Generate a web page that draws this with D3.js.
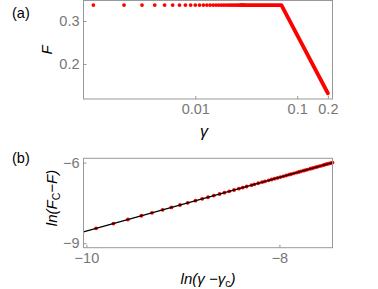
<!DOCTYPE html>
<html>
<head>
<meta charset="utf-8">
<script src="https://cdn.jsdelivr.net/npm/d3@7"></script>
<style>
  body { margin: 0; background: #fff; }
  svg { display: block; font-family: "Liberation Sans", Arial, sans-serif; }
  .tick text { fill: #777; font-size: 14.5px; }
  .tick line { stroke: #999; }
</style>
</head>
<body>
<svg id="chart" width="378" height="289"></svg>
<script>
// panel (a): F vs gamma (log x)
var gammaDots = [0.001, 0.002, 0.003, 0.004, 0.005, 0.006, 0.007, 0.008, 0.009, 0.010,
                 0.011, 0.012, 0.013, 0.014, 0.015, 0.016, 0.017, 0.018, 0.019, 0.020,
                 0.021, 0.022, 0.023, 0.024, 0.025, 0.026, 0.027, 0.028, 0.029, 0.030];
var fDots = 0.337;
var gammaLine = [0.028, 0.070, 0.200];
var fLine = [0.337, 0.337, 0.132];
var xTicksA = [0.01, 0.1, 0.2];
var xLabelsA = ["0.01", "0.1", "0.2"];
var yTicksA = [0.2, 0.3];
var yLabelsA = ["0.2", "0.3"];

// panel (b): ln(Fc - F) vs ln(gamma - gamma_c)
var lnG = [-9.90, -9.72, -9.57, -9.43, -9.32, -9.21, -9.12, -9.03, -8.95, -8.87,
           -8.80, -8.74, -8.68, -8.62, -8.57, -8.52, -8.47, -8.42, -8.38, -8.34,
           -8.29, -8.26, -8.22, -8.18, -8.15, -8.11, -8.08, -8.05, -8.02, -7.99,
           -7.96, -7.93, -7.90, -7.88, -7.85, -7.82, -7.80, -7.78, -7.75, -7.73,
           -7.71, -7.68, -7.66, -7.64, -7.62, -7.60, -7.58, -7.56, -7.54, -7.52,
           -7.51, -7.49, -7.47, -7.45];
var lnF = [-8.45, -8.27, -8.12, -7.98, -7.87, -7.76, -7.67, -7.58, -7.50, -7.42,
           -7.35, -7.29, -7.23, -7.17, -7.12, -7.07, -7.02, -6.97, -6.93, -6.89,
           -6.84, -6.81, -6.77, -6.73, -6.70, -6.66, -6.63, -6.60, -6.57, -6.54,
           -6.51, -6.48, -6.45, -6.43, -6.40, -6.37, -6.35, -6.33, -6.30, -6.28,
           -6.26, -6.23, -6.21, -6.19, -6.17, -6.15, -6.13, -6.11, -6.09, -6.07,
           -6.06, -6.04, -6.02, -6.00];
var fitX = [-10.03, -7.45];
var fitY = [-8.58, -6.00];
var xTicksB = [-10, -8];
var xLabelsB = ["\u221210", "\u22128"];
var yTicksB = [-9, -6];
var yLabelsB = ["\u22129", "\u22126"];

var svg = d3.select("#chart");
var left = 83.5, right = 332.5;

function frame(g, top, bottom) {
    g.append("rect")
        .attr("x", left).attr("y", top)
        .attr("width", right - left).attr("height", bottom - top)
        .attr("fill", "none").attr("stroke", "#999").attr("stroke-width", 1);
}

function axes(g, x, y, bottom, xt, xl, yt, yl) {
    var xa = d3.axisBottom(x).tickValues(xt)
        .tickFormat(function(d, i){ return xl[i]; })
        .tickSizeInner(-3).tickSizeOuter(0).tickPadding(5);
    var ya = d3.axisLeft(y).tickValues(yt)
        .tickFormat(function(d, i){ return yl[i]; })
        .tickSizeInner(-3).tickSizeOuter(0).tickPadding(4);
    g.append("g").attr("transform", "translate(0," + bottom + ")").call(xa)
        .call(function(s){ s.select(".domain").remove(); });
    g.append("g").attr("transform", "translate(" + left + ",0)").call(ya)
        .call(function(s){ s.select(".domain").remove(); });
    g.selectAll(".tick text").attr("font-family", null).attr("font-size", null);
}

// ---- panel (a)
var topA = 0.5, botA = 99;
var xA = d3.scaleLog().domain([0.0008, 0.222]).range([left, right]);
var yA = d3.scaleLinear().domain([0.1186, 0.3477]).range([botA, topA]);
var gA = svg.append("g");

gA.append("path")
    .datum(gammaLine.map(function(g, i){ return [g, fLine[i]]; }))
    .attr("fill", "none").attr("stroke", "#ff0000")
    .attr("stroke-width", 3.8).attr("stroke-linecap", "round").attr("stroke-linejoin", "round")
    .attr("d", d3.line().x(function(d){ return xA(d[0]); }).y(function(d){ return yA(d[1]); }));

gA.selectAll(".dot").data(gammaDots).enter().append("circle")
    .attr("cx", function(d){ return xA(d); })
    .attr("cy", yA(fDots))
    .attr("r", 1.9).attr("fill", "#ff0000");

frame(gA, topA, botA);
axes(gA, xA, yA, botA, xTicksA, xLabelsA, yTicksA, yLabelsA);

gA.append("text").attr("x", 12).attr("y", 18).attr("font-size", 14.5).text("(a)");
gA.append("text").attr("transform", "translate(52,50) rotate(-90)")
    .attr("text-anchor", "middle").attr("font-size", 15).attr("font-style", "italic").text("F");
gA.append("text").attr("x", 204).attr("y", 137)
    .attr("text-anchor", "middle").attr("font-size", 16).attr("font-style", "italic").text("\u03b3");

// ---- panel (b)
var topB = 158.3, botB = 247.7;
var xB = d3.scaleLinear().domain([-10.03, -7.45]).range([left, right]);
var yB = d3.scaleLinear().domain([-9.17, -5.84]).range([botB, topB]);
var gB = svg.append("g");

gB.selectAll(".dot").data(lnG).enter().append("circle")
    .attr("cx", function(d){ return xB(d); })
    .attr("cy", function(d, i){ return yB(lnF[i]); })
    .attr("r", 1.9).attr("fill", "#ff0000");

gB.append("path")
    .datum(fitX.map(function(v, i){ return [v, fitY[i]]; }))
    .attr("fill", "none").attr("stroke", "#000").attr("stroke-width", 1.2)
    .attr("d", d3.line().x(function(d){ return xB(d[0]); }).y(function(d){ return yB(d[1]); }));

frame(gB, topB, botB);
axes(gB, xB, yB, botB, xTicksB, xLabelsB, yTicksB, yLabelsB);

gB.append("text").attr("x", 12).attr("y", 163).attr("font-size", 14.5).text("(b)");

var yl = gB.append("text").attr("transform", "translate(57,198) rotate(-90)")
    .attr("text-anchor", "middle").attr("font-size", 15);
yl.append("tspan").attr("font-style", "italic").text("ln(F");
yl.append("tspan").attr("font-size", 10.5).attr("dy", 3).text("C");
yl.append("tspan").attr("font-style", "italic").attr("dy", -3).text("\u2212F)");

var xl = gB.append("text").attr("x", 208).attr("y", 284)
    .attr("text-anchor", "middle").attr("font-size", 15);
xl.append("tspan").attr("font-style", "italic").text("ln(\u03b3 \u2212\u03b3");
xl.append("tspan").attr("font-size", 10.5).attr("dy", 3).text("c");
xl.append("tspan").attr("font-style", "italic").attr("dy", -3).text(")");
</script>
</body>
</html>
